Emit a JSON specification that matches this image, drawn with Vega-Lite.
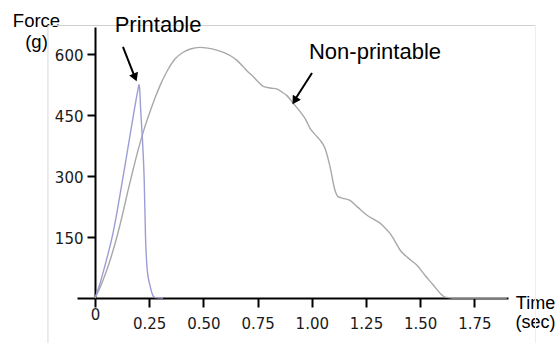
{
  "$schema": "https://vega.github.io/schema/vega-lite/v6.json",
  "width": 431,
  "height": 271,
  "autosize": "none",
  "padding": {"left": 77, "top": 27, "right": 49, "bottom": 45},
  "background": "white",
  "config": {"view": {"stroke": null}},
  "datasets": {
    "curves": [
      {"series": "Non-printable", "time": 0, "force": 0},
      {"series": "Non-printable", "time": 0.025, "force": 28},
      {"series": "Non-printable", "time": 0.05, "force": 62},
      {"series": "Non-printable", "time": 0.075, "force": 102},
      {"series": "Non-printable", "time": 0.1, "force": 148},
      {"series": "Non-printable", "time": 0.125, "force": 201},
      {"series": "Non-printable", "time": 0.15, "force": 259},
      {"series": "Non-printable", "time": 0.175, "force": 314},
      {"series": "Non-printable", "time": 0.2, "force": 366},
      {"series": "Non-printable", "time": 0.225, "force": 412},
      {"series": "Non-printable", "time": 0.25, "force": 452},
      {"series": "Non-printable", "time": 0.275, "force": 489},
      {"series": "Non-printable", "time": 0.3, "force": 522},
      {"series": "Non-printable", "time": 0.331, "force": 556},
      {"series": "Non-printable", "time": 0.37, "force": 588},
      {"series": "Non-printable", "time": 0.407, "force": 604},
      {"series": "Non-printable", "time": 0.44, "force": 612},
      {"series": "Non-printable", "time": 0.484, "force": 616},
      {"series": "Non-printable", "time": 0.52, "force": 614},
      {"series": "Non-printable", "time": 0.561, "force": 609},
      {"series": "Non-printable", "time": 0.6, "force": 602},
      {"series": "Non-printable", "time": 0.623, "force": 596},
      {"series": "Non-printable", "time": 0.655, "force": 584},
      {"series": "Non-printable", "time": 0.684, "force": 568},
      {"series": "Non-printable", "time": 0.705, "force": 556},
      {"series": "Non-printable", "time": 0.73, "force": 544},
      {"series": "Non-printable", "time": 0.755, "force": 530},
      {"series": "Non-printable", "time": 0.776, "force": 520},
      {"series": "Non-printable", "time": 0.81, "force": 516},
      {"series": "Non-printable", "time": 0.838, "force": 514},
      {"series": "Non-printable", "time": 0.865, "force": 505},
      {"series": "Non-printable", "time": 0.884, "force": 498},
      {"series": "Non-printable", "time": 0.915, "force": 478},
      {"series": "Non-printable", "time": 0.946, "force": 458},
      {"series": "Non-printable", "time": 0.97, "force": 440},
      {"series": "Non-printable", "time": 0.992, "force": 417},
      {"series": "Non-printable", "time": 1.02, "force": 399},
      {"series": "Non-printable", "time": 1.038, "force": 388},
      {"series": "Non-printable", "time": 1.061, "force": 368},
      {"series": "Non-printable", "time": 1.084, "force": 323},
      {"series": "Non-printable", "time": 1.107, "force": 265},
      {"series": "Non-printable", "time": 1.121, "force": 249},
      {"series": "Non-printable", "time": 1.144, "force": 245},
      {"series": "Non-printable", "time": 1.176, "force": 240},
      {"series": "Non-printable", "time": 1.21, "force": 224},
      {"series": "Non-printable", "time": 1.253, "force": 204},
      {"series": "Non-printable", "time": 1.29, "force": 192},
      {"series": "Non-printable", "time": 1.315, "force": 184},
      {"series": "Non-printable", "time": 1.34, "force": 171},
      {"series": "Non-printable", "time": 1.361, "force": 159},
      {"series": "Non-printable", "time": 1.385, "force": 138},
      {"series": "Non-printable", "time": 1.407, "force": 118},
      {"series": "Non-printable", "time": 1.445, "force": 98},
      {"series": "Non-printable", "time": 1.484, "force": 81},
      {"series": "Non-printable", "time": 1.52, "force": 57},
      {"series": "Non-printable", "time": 1.56, "force": 32},
      {"series": "Non-printable", "time": 1.595, "force": 10},
      {"series": "Non-printable", "time": 1.614, "force": 2},
      {"series": "Non-printable", "time": 1.65, "force": 0},
      {"series": "Non-printable", "time": 1.9, "force": 0},
      {"series": "Printable", "time": 0, "force": 0},
      {"series": "Printable", "time": 0.02, "force": 30},
      {"series": "Printable", "time": 0.04, "force": 68},
      {"series": "Printable", "time": 0.06, "force": 108},
      {"series": "Printable", "time": 0.08, "force": 152},
      {"series": "Printable", "time": 0.1, "force": 207},
      {"series": "Printable", "time": 0.12, "force": 268},
      {"series": "Printable", "time": 0.14, "force": 331},
      {"series": "Printable", "time": 0.16, "force": 395},
      {"series": "Printable", "time": 0.18, "force": 458},
      {"series": "Printable", "time": 0.196, "force": 506},
      {"series": "Printable", "time": 0.204, "force": 525},
      {"series": "Printable", "time": 0.207, "force": 505},
      {"series": "Printable", "time": 0.21, "force": 470},
      {"series": "Printable", "time": 0.219, "force": 388},
      {"series": "Printable", "time": 0.227, "force": 290},
      {"series": "Printable", "time": 0.233, "force": 150},
      {"series": "Printable", "time": 0.241, "force": 69},
      {"series": "Printable", "time": 0.253, "force": 32},
      {"series": "Printable", "time": 0.261, "force": 15},
      {"series": "Printable", "time": 0.268, "force": 5},
      {"series": "Printable", "time": 0.28, "force": 1},
      {"series": "Printable", "time": 0.314, "force": 0}
    ]
  },
  "layer": [
    {
      "data": {"values": [{}]},
      "mark": {"type": "rule", "color": "#d0d0d0", "strokeWidth": 1},
      "encoding": {
        "x": {"datum": -0.217, "type": "quantitative"},
        "x2": {"datum": 2.032},
        "y": {"datum": 669.7, "type": "quantitative"}
      }
    },
    {
      "data": {"values": [{}]},
      "mark": {"type": "rule", "color": "#d8d8d8", "strokeWidth": 1},
      "encoding": {
        "x": {"datum": -0.217, "type": "quantitative"},
        "y": {"datum": 669.7, "type": "quantitative"},
        "y2": {"datum": -115}
      }
    },
    {
      "data": {"values": [{}]},
      "mark": {"type": "rule", "color": "#eeeeee", "strokeWidth": 1},
      "encoding": {
        "x": {"datum": 2.032, "type": "quantitative"},
        "y": {"datum": 669.7, "type": "quantitative"},
        "y2": {"datum": -115}
      }
    },
    {
      "data": {"name": "curves"},
      "mark": {"type": "line", "interpolate": "monotone", "strokeWidth": 1.4},
      "encoding": {
        "x": {
          "field": "time",
          "type": "quantitative",
          "scale": {"domain": [-0.083, 1.905], "nice": false, "zero": false},
          "axis": {
            "values": [0, 0.25, 0.5, 0.75, 1, 1.25, 1.5, 1.75],
            "labelExpr": "datum.value == 0 ? '0' : format(datum.value, '.2f')",
            "grid": false,
            "domainColor": "black",
            "domainWidth": 2,
            "tickColor": "black",
            "tickWidth": 2,
            "tickSize": 9,
            "labelFont": "DejaVu Sans",
            "labelFontSize": 15,
            "labelColor": "#1a1a1a",
            "labelFlush": false,
            "labelOverlap": false,
            "labelPadding": {"condition": {"test": "datum.value == 0", "value": 0}, "value": 9},
            "title": ["Time", "(sec)"],
            "titleFont": "Liberation Sans",
            "titleFontSize": 18,
            "titleFontWeight": "normal",
            "titleColor": "black",
            "titleAngle": 0,
            "titleAlign": "center",
            "titleBaseline": "alphabetic",
            "titleX": 458,
            "titleY": 10,
            "titleLineHeight": 19
          }
        },
        "y": {
          "field": "force",
          "type": "quantitative",
          "scale": {"domain": [0, 666], "nice": false, "zero": false},
          "axis": {
            "values": [150, 300, 450, 600],
            "offset": -18,
            "grid": false,
            "domainColor": "black",
            "domainWidth": 2,
            "tickColor": "black",
            "tickWidth": 2,
            "tickSize": 8,
            "labelFont": "DejaVu Sans",
            "labelFontSize": 15,
            "labelColor": "#1a1a1a",
            "labelPadding": 4,
            "labelOffset": 1.5,
            "labelFlush": false,
            "title": ["Force", "(g)"],
            "titleFont": "Liberation Sans",
            "titleFontSize": 18.5,
            "titleFontWeight": "normal",
            "titleColor": "black",
            "titleAngle": 0,
            "titleAlign": "center",
            "titleBaseline": "alphabetic",
            "titleX": -59,
            "titleY": -1,
            "titleLineHeight": 21.5
          }
        },
        "color": {
          "field": "series",
          "type": "nominal",
          "scale": {"domain": ["Non-printable", "Printable"], "range": ["#a8a8a8", "#9d9dd6"]},
          "legend": null
        }
      }
    },
    {
      "data": {"values": [{}]},
      "mark": {"type": "text", "font": "Liberation Sans", "fontSize": 22, "align": "center", "baseline": "alphabetic", "color": "black"},
      "encoding": {
        "x": {"datum": 0.291, "type": "quantitative"},
        "y": {"datum": 654, "type": "quantitative"},
        "text": {"value": "Printable"}
      }
    },
    {
      "data": {"values": [{}]},
      "mark": {"type": "text", "font": "Liberation Sans", "fontSize": 22, "align": "center", "baseline": "alphabetic", "color": "black"},
      "encoding": {
        "x": {"datum": 1.2915, "type": "quantitative"},
        "y": {"datum": 586.6, "type": "quantitative"},
        "text": {"value": "Non-printable"}
      }
    },
    {
      "data": {"values": [{}]},
      "mark": {"type": "rule", "color": "black", "strokeWidth": 2},
      "encoding": {
        "x": {"datum": 0.129, "type": "quantitative"},
        "y": {"datum": 617, "type": "quantitative"},
        "x2": {"datum": 0.18},
        "y2": {"datum": 548}
      }
    },
    {
      "data": {"values": [{}]},
      "mark": {"type": "point", "shape": "triangle-down", "filled": true, "size": 90, "color": "black", "opacity": 1, "angle": 338},
      "encoding": {
        "x": {"datum": 0.185, "type": "quantitative"},
        "y": {"datum": 542, "type": "quantitative"}
      }
    },
    {
      "data": {"values": [{}]},
      "mark": {"type": "rule", "color": "black", "strokeWidth": 2},
      "encoding": {
        "x": {"datum": 1.001, "type": "quantitative"},
        "y": {"datum": 553, "type": "quantitative"},
        "x2": {"datum": 0.927},
        "y2": {"datum": 491.5}
      }
    },
    {
      "data": {"values": [{}]},
      "mark": {"type": "point", "shape": "triangle-down", "filled": true, "size": 90, "color": "black", "opacity": 1, "angle": 32},
      "encoding": {
        "x": {"datum": 0.921, "type": "quantitative"},
        "y": {"datum": 485, "type": "quantitative"}
      }
    }
  ]
}
